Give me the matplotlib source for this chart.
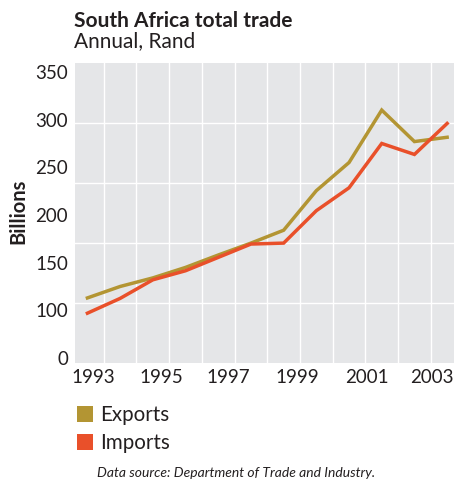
import matplotlib
matplotlib.use("Agg")
import matplotlib.pyplot as plt
import numpy as np
from matplotlib.patches import Rectangle

plt.rcParams['font.family'] = ['Lato', 'DejaVu Sans']

# Annual trade, billions of rand
years = np.arange(1992, 2004)
exports = [113, 125, 134, 145, 158, 170.5, 184, 225.5, 255, 310, 277, 281.5]
imports = [97, 112.5, 132, 141.5, 155.5, 169.5, 170.5, 204.5, 228.5, 275, 263.5, 296]

series_names = ["Exports", "Imports"]
series_colors = ["#B39533", "#E9502A"]

ytick_values = [50, 100, 150, 200, 250, 300, 350]
ytick_labels = ["0", "100", "150", "200", "250", "300", "350"]
xtick_labels = ["1993", "1995", "1997", "1999", "2001", "2003"]
xtick_pos = [1992.17, 1994.25, 1996.30, 1998.41, 2000.54, 2002.53]

W, H = 456, 482
fig = plt.figure(figsize=(W / 100, H / 100), dpi=100)
ax = fig.add_axes([75 / W, 1 - 363 / H, 379 / W, 300 / H])
ax.set_facecolor("#E5E6E8")
for s in ax.spines.values():
    s.set_visible(False)

xlim = (1991.62, 2003.21)
ylim = (44.75, 359.4)
ax.set_xlim(*xlim)
ax.set_ylim(*ylim)

# white grid: year boundaries and five equal bands
for x in years[:-1] + 0.5:
    ax.axvline(x, color="white", lw=1.0, zorder=1)
for y in np.linspace(ylim[0], ylim[1], 6)[1:-1]:
    ax.axhline(y, color="white", lw=1.0, zorder=1)

for vals, c in zip([exports, imports], series_colors):
    ax.plot(years, vals, color=c, lw=2.5, zorder=3, solid_joinstyle="miter")

ax.set_yticks(ytick_values)
ax.set_yticklabels(ytick_labels)
ax.set_xticks(xtick_pos)
ax.set_xticklabels(xtick_labels)
ax.tick_params(axis="both", length=0, labelsize=13.5, colors="#231F20")
ax.tick_params(axis="y", pad=5)
ax.tick_params(axis="x", pad=4)

fig.text(18 / W, 1 - 211 / H, "Billions", rotation=90, ha="center", va="center",
         fontsize=14.5, fontweight="bold", color="#231F20")

fig.text(74 / W, 1 - 27 / H, "South Africa total trade", fontsize=15,
         fontweight="bold", color="#231F20", va="baseline")
fig.text(74 / W, 1 - 47 / H, "Annual, Rand", fontsize=15, color="#231F20",
         va="baseline")

# legend swatches
for i, (name, c) in enumerate(zip(series_names, series_colors)):
    top = 406 + i * 28
    fig.add_artist(Rectangle((77 / W, 1 - (top + 16) / H), 16 / W, 16 / H,
                             transform=fig.transFigure, color=c, lw=0))
    fig.text(100 / W, 1 - (top + 15) / H, name, fontsize=14.8, color="#231F20",
             va="baseline")

fig.text(97 / W, 1 - 477 / H, "Data source: Department of Trade and Industry.",
         fontsize=10, style="italic", color="#231F20", va="baseline")

fig.savefig("out.png", dpi=100)
